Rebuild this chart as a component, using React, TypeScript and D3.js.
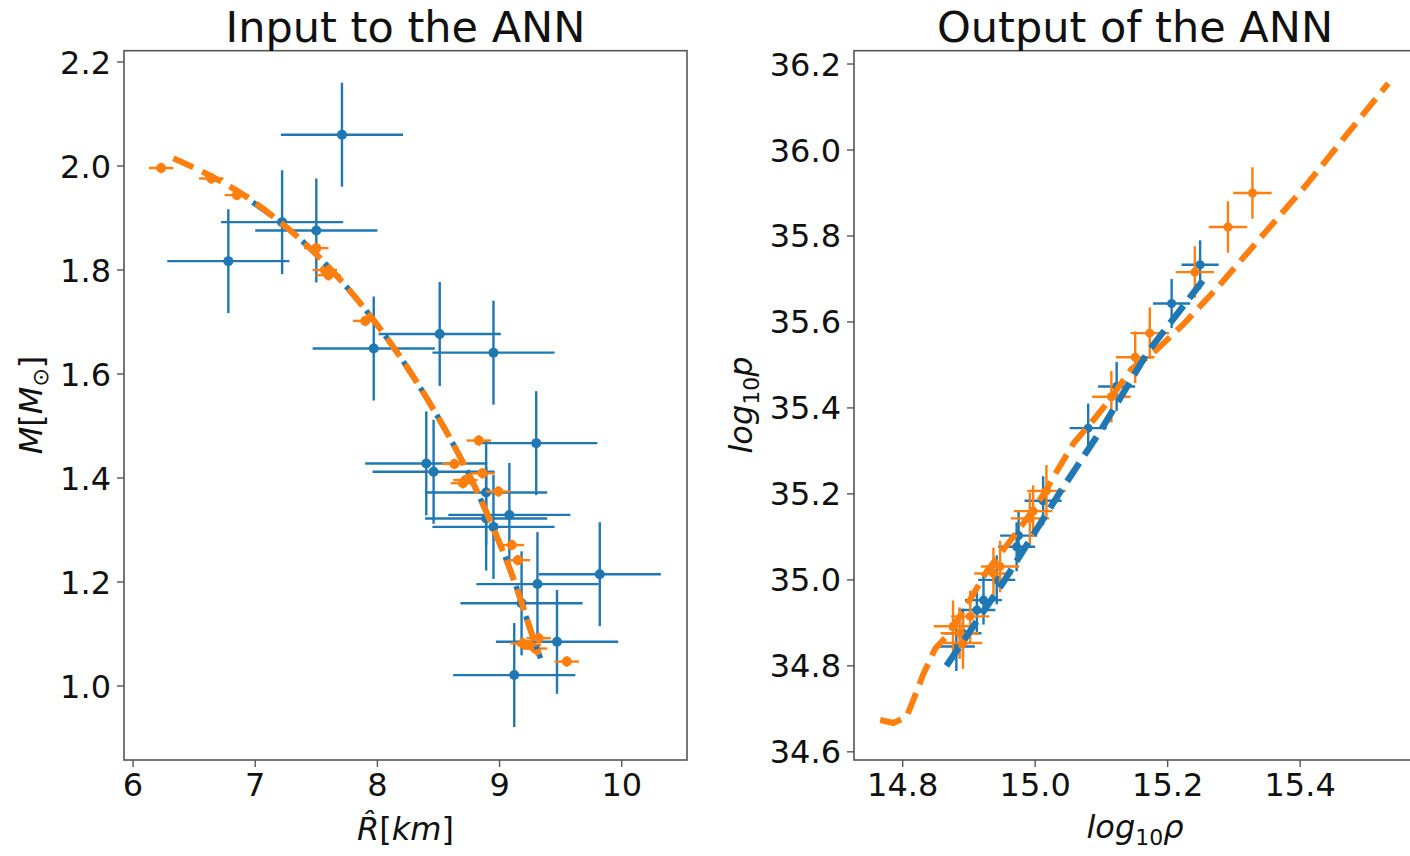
import React from 'react';
import * as d3 from 'd3';

// ---------- Left panel: Input to the ANN ----------
const leftTicksX = [6, 7, 8, 9, 10];
const leftTicksY = [1.0, 1.2, 1.4, 1.6, 1.8, 2.0, 2.2];

const inBlueR = [7.71, 6.78, 7.22, 7.50, 7.97, 8.51, 8.95, 9.30, 8.40, 8.46, 8.89, 9.08, 8.89, 8.95, 9.82, 9.31, 9.18, 9.47, 9.12];
const inBlueM = [2.06, 1.817, 1.892, 1.876, 1.649, 1.677, 1.641, 1.467, 1.428, 1.412, 1.372, 1.329, 1.322, 1.306, 1.215, 1.196, 1.159, 1.085, 1.021];
const inBlueRErr = 0.5;
const inBlueMErr = 0.1;

const inOrangeR = [6.23, 6.64, 6.85, 7.50, 7.57, 7.60, 7.90, 8.83, 8.63, 8.70, 8.72, 8.86, 8.99, 9.10, 9.15, 9.19, 9.24, 9.29, 9.32, 9.55];
const inOrangeM = [1.996, 1.976, 1.944, 1.842, 1.80, 1.79, 1.702, 1.472, 1.427, 1.39, 1.396, 1.409, 1.374, 1.271, 1.242, 1.082, 1.079, 1.072, 1.092, 1.047];
const inOrangeRErr = 0.1;
const inOrangeMErr = 0.01;

const inBlueLineR = [6.98, 7.2, 7.5, 7.8, 8.1, 8.4, 8.7, 8.9, 9.1, 9.25, 9.335];
const inBlueLineM = [1.93, 1.893, 1.83, 1.753, 1.662, 1.555, 1.43, 1.33, 1.215, 1.11, 1.053];

const inOrangeLineR = [6.33, 6.6, 6.9, 7.2, 7.5, 7.8, 8.1, 8.4, 8.7, 8.9, 9.1, 9.25, 9.32];
const inOrangeLineM = [2.015, 1.985, 1.945, 1.893, 1.83, 1.753, 1.662, 1.555, 1.43, 1.33, 1.215, 1.11, 1.06];

// ---------- Right panel: Output of the ANN ----------
const rightTicksX = [14.8, 15.0, 15.2, 15.4];
const rightTicksY = [34.6, 34.8, 35.0, 35.2, 35.4, 35.6, 35.8, 36.0, 36.2];

const outBlueRho = [15.249, 15.206, 15.123, 15.08, 15.012, 14.975, 14.972, 14.942, 14.922, 14.912, 14.891, 14.881];
const outBlueP = [35.733, 35.643, 35.45, 35.353, 35.184, 35.103, 35.077, 35.0, 34.953, 34.93, 34.876, 34.845];
const outBlueRhoErr = 0.028;
const outBluePErr = 0.057;

const outOrangeRho = [15.328, 15.291, 15.241, 15.173, 15.151, 15.115, 15.017, 14.997, 14.992, 14.947, 14.937, 14.902, 14.886, 14.891, 14.876];
const outOrangeP = [35.90, 35.821, 35.716, 35.574, 35.518, 35.426, 35.207, 35.16, 35.143, 35.031, 35.015, 34.915, 34.876, 34.853, 34.892];
const outOrangeRhoErr = 0.029;
const outOrangePErr = 0.06;

const outBlueLineRho = [14.866, 14.95, 15.04, 15.10, 15.17, 15.21, 15.26];
const outBlueLineP = [34.80, 34.99, 35.21, 35.35, 35.53, 35.61, 35.71];

const outOrangeLineRho = [14.766, 14.786, 14.806, 14.816, 14.831, 14.849, 14.87, 14.90, 14.927, 14.952, 14.972, 14.997, 15.017, 15.037, 15.058, 15.088, 15.113, 15.145, 15.183, 15.224, 15.274, 15.324, 15.41, 15.47, 15.533];
const outOrangeLineP = [34.674, 34.667, 34.682, 34.72, 34.78, 34.84, 34.875, 34.95, 35.02, 35.07, 35.11, 35.163, 35.21, 35.264, 35.318, 35.372, 35.42, 35.49, 35.535, 35.595, 35.678, 35.767, 35.92, 36.035, 36.155];

const BLUE = '#1f77b4';
const ORANGE = '#ff7f0e';
const FONT = '"DejaVu Sans", sans-serif';
const W = 1410;
const H = 856;

type Scale = d3.ScaleLinear<number, number>;

function ErrorBars({ xs, ys, xe, ye, x, y, color, r, sw }: { xs: number[]; ys: number[]; xe: number; ye: number; x: Scale; y: Scale; color: string; r: number; sw: number }) {
  return (
    <g>
      {xs.map((v, i) => (
        <g key={i}>
          <line x1={x(v - xe)} x2={x(v + xe)} y1={y(ys[i])} y2={y(ys[i])} stroke={color} strokeWidth={sw} />
          <line x1={x(v)} x2={x(v)} y1={y(ys[i] - ye)} y2={y(ys[i] + ye)} stroke={color} strokeWidth={sw} />
          <circle cx={x(v)} cy={y(ys[i])} r={r} fill={color} />
        </g>
      ))}
    </g>
  );
}

function DashLine({ xs, ys, x, y, color, w, smooth }: { xs: number[]; ys: number[]; x: Scale; y: Scale; color: string; w: number; smooth?: boolean }) {
  const gen = d3.line<number>().x((d) => x(d)).y((_, i) => y(ys[i])).curve(smooth ? d3.curveCatmullRom : d3.curveLinear);
  return <path d={gen(xs) || ''} fill="none" stroke={color} strokeWidth={w} strokeDasharray="22 9.5" />;
}

function Axes({ x, y, xt, yt, fmtX, fmtY }: { x: Scale; y: Scale; xt: number[]; yt: number[]; fmtX: (v: number) => string; fmtY: (v: number) => string }) {
  const [x0, x1] = x.range();
  const [y0, y1] = y.range();
  return (
    <g fontFamily={FONT} fontSize={32} fill="#111">
      <rect x={x0} y={y1} width={x1 - x0} height={y0 - y1} fill="none" stroke="#555" strokeWidth={1.6} />
      {xt.map((t) => (
        <g key={'x' + t}>
          <line x1={x(t)} x2={x(t)} y1={y0} y2={y0 + 7} stroke="#555" strokeWidth={1.4} />
          <text x={x(t)} y={796} textAnchor="middle">{fmtX(t)}</text>
        </g>
      ))}
      {yt.map((t) => (
        <g key={'y' + t}>
          <line x1={x0 - 7} x2={x0} y1={y(t)} y2={y(t)} stroke="#555" strokeWidth={1.4} />
          <text x={x0 - 13} y={y(t)} dy="0.36em" textAnchor="end">{fmtY(t)}</text>
        </g>
      ))}
    </g>
  );
}

export default function App() {
  // left panel scales
  const xL = d3.scaleLinear().domain([5.926, 10.534]).range([124, 687]);
  const yL = d3.scaleLinear().domain([0.8577, 2.2217]).range([760, 50.7]);
  // right panel scales
  const xR = d3.scaleLinear().domain([14.7265, 15.59]).range([854, 1426]);
  const yR = d3.scaleLinear().domain([34.581, 36.231]).range([760, 50.7]);

  const f0 = d3.format('d');
  const f1 = d3.format('.1f');

  return (
    <svg width={W} height={H} style={{ position: 'absolute', left: 0, top: 0, background: '#fff' }} xmlns="http://www.w3.org/2000/svg">
      <rect width={W} height={H} fill="#fff" />
      <defs>
        <clipPath id="clipL"><rect x={124} y={50.7} width={563} height={709.3} /></clipPath>
        <clipPath id="clipR"><rect x={854} y={50.7} width={572} height={709.3} /></clipPath>
      </defs>

      {/* Left panel */}
      <g clipPath="url(#clipL)">
        <ErrorBars xs={inBlueR} ys={inBlueM} xe={inBlueRErr} ye={inBlueMErr} x={xL} y={yL} color={BLUE} r={5} sw={2.4} />
        <ErrorBars xs={inOrangeR} ys={inOrangeM} xe={inOrangeRErr} ye={inOrangeMErr} x={xL} y={yL} color={ORANGE} r={5} sw={2.4} />
        <DashLine xs={inBlueLineR} ys={inBlueLineM} x={xL} y={yL} color={BLUE} w={5.5} smooth />
        <DashLine xs={inOrangeLineR} ys={inOrangeLineM} x={xL} y={yL} color={ORANGE} w={6} smooth />
      </g>
      <Axes x={xL} y={yL} xt={leftTicksX} yt={leftTicksY} fmtX={f0} fmtY={f1} />
      <text x={405.5} y={42} textAnchor="middle" fontFamily={FONT} fontSize={43} fill="#111">Input to the ANN</text>
      <text x={405.5} y={840} textAnchor="middle" fontFamily={FONT} fontSize={32} fill="#111">
        <tspan fontStyle="italic">R&#770;</tspan>[<tspan fontStyle="italic">km</tspan>]
      </text>
      <text transform="translate(42,405) rotate(-90)" textAnchor="middle" fontFamily={FONT} fontSize={32} fill="#111">
        <tspan fontStyle="italic">M</tspan>[<tspan fontStyle="italic">M</tspan><tspan fontSize={22} dy={6}>⊙</tspan><tspan dy={-6}>]</tspan>
      </text>

      {/* Right panel */}
      <g clipPath="url(#clipR)">
        <ErrorBars xs={outBlueRho} ys={outBlueP} xe={outBlueRhoErr} ye={outBluePErr} x={xR} y={yR} color={BLUE} r={4.5} sw={2.4} />
        <ErrorBars xs={outOrangeRho} ys={outOrangeP} xe={outOrangeRhoErr} ye={outOrangePErr} x={xR} y={yR} color={ORANGE} r={4.5} sw={2.4} />
        <DashLine xs={outOrangeLineRho} ys={outOrangeLineP} x={xR} y={yR} color={ORANGE} w={6} />
        <DashLine xs={outBlueLineRho} ys={outBlueLineP} x={xR} y={yR} color={BLUE} w={6.5} />
      </g>
      <Axes x={xR} y={yR} xt={rightTicksX} yt={rightTicksY} fmtX={f1} fmtY={f1} />
      <text x={1135} y={42} textAnchor="middle" fontFamily={FONT} fontSize={43} fill="#111">Output of the ANN</text>
      <text x={1135} y={838} textAnchor="middle" fontFamily={FONT} fontSize={32} fill="#111" fontStyle="italic">
        log<tspan fontSize={22} dy={7} fontStyle="normal">10</tspan><tspan dy={-7}>ρ</tspan>
      </text>
      <text transform="translate(752,405) rotate(-90)" textAnchor="middle" fontFamily={FONT} fontSize={32} fill="#111" fontStyle="italic">
        log<tspan fontSize={22} dy={7} fontStyle="normal">10</tspan><tspan dy={-7}>p</tspan>
      </text>
    </svg>
  );
}
